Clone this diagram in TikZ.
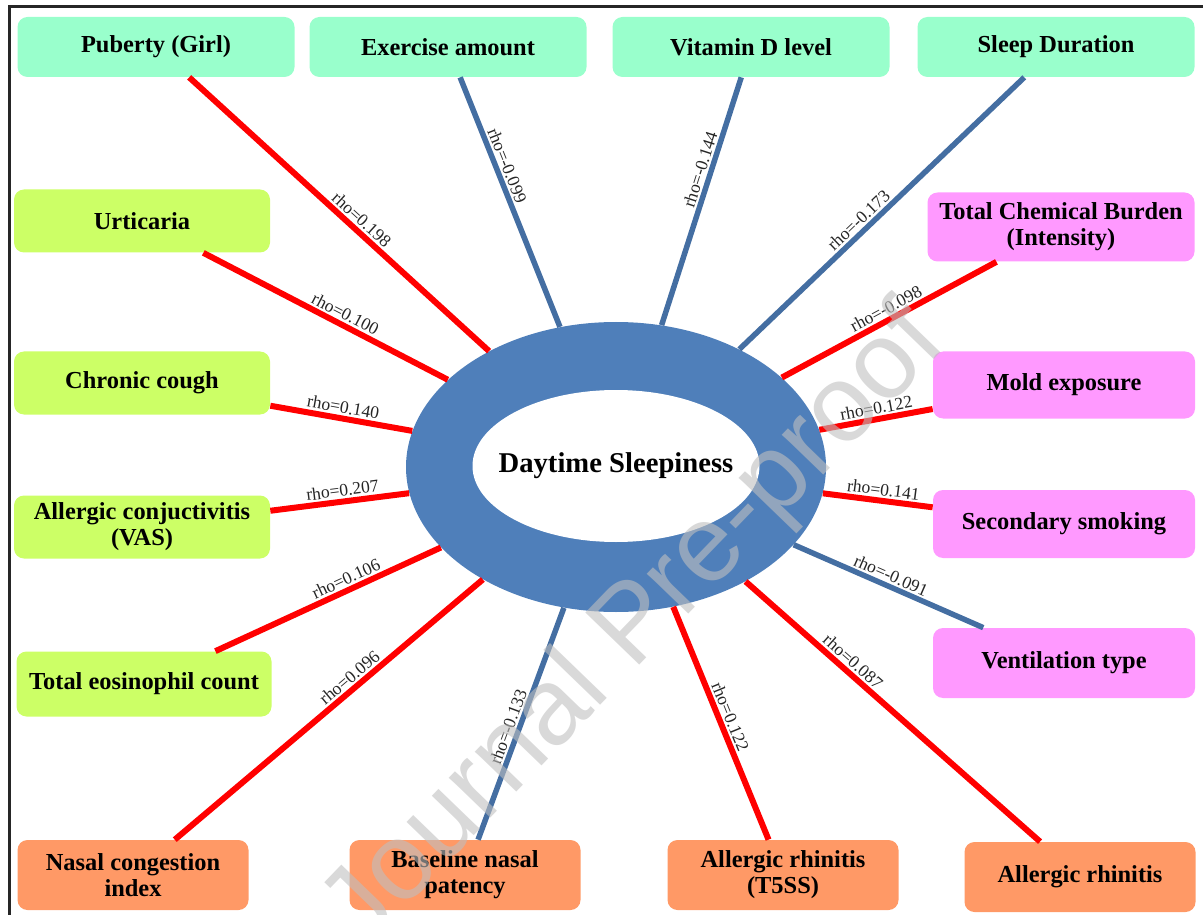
\documentclass[tikz,border=0pt]{standalone}
\usepackage{fontspec}
\setmainfont{Liberation Serif}
\setsansfont{Liberation Sans}
\usetikzlibrary{shapes.geometric}
\newlength\px
\setlength\px{0.02cm}
\definecolor{mint}{RGB}{153,255,204}
\definecolor{lime}{RGB}{204,255,102}
\definecolor{orchid}{RGB}{255,153,255}
\definecolor{salmon}{RGB}{255,153,102}
\definecolor{ringblue}{RGB}{79,127,186}
\definecolor{lineblue}{RGB}{68,110,162}
\definecolor{linered}{RGB}{255,0,0}
\begin{document}
\begin{tikzpicture}[x=1\px,y=-1\px,
 factor/.style={rounded corners=10\px,inner sep=0pt,align=center,
   font=\bfseries\fontsize{13.9}{14.8}\selectfont},
 topbox/.style={factor,fill=mint,minimum width=277\px,minimum height=60\px},
 leftbox/.style={factor,fill=lime,minimum width=256\px,minimum height=63\px},
 rightbox/.style={factor,fill=orchid,minimum width=262\px,minimum height=67\px},
 botbox/.style={factor,fill=salmon,minimum width=231\px,minimum height=70\px},
 posline/.style={draw=linered,line width=6\px},
 negline/.style={draw=lineblue,line width=5.5\px},
 rho/.style={sloped,above,inner sep=2\px,text=black!85,font=\fontsize{10}{10}\selectfont}]
 \useasboundingbox (0,0) rectangle (1203,915);
 \draw[line width=3\px,black!85] (9,930) -- (9,7) -- (1215,7);
 % factors
 \node[topbox] (puberty) at (156,47) {Puberty (Girl)};
 \node[topbox] (exercise) at (448,47) {Exercise amount};
 \node[topbox] (vitd) at (751,47) {Vitamin D level};
 \node[topbox] (sleep) at (1056,47) {Sleep Duration};
 \node[leftbox] (urticaria) at (142,221) {Urticaria};
 \node[leftbox] (cough) at (142,383) {Chronic cough};
 \node[leftbox] (conj) at (142,527) {Allergic conjuctivitis\\(VAS)};
 \node[leftbox,minimum width=255\px,minimum height=65\px] (eosin) at (144,684) {Total eosinophil count};
 \node[rightbox,minimum width=267\px,minimum height=69\px] (chem) at (1061,227) {Total Chemical Burden\\(Intensity)};
 \node[rightbox] (mold) at (1064,385) {Mold exposure};
 \node[rightbox,minimum height=68\px] (smoke) at (1064,524) {Secondary smoking};
 \node[rightbox,minimum height=70\px] (vent) at (1064,663) {Ventilation type};
 \node[botbox] (nasal) at (133,875) {Nasal congestion\\index};
 \node[botbox] (patency) at (465,875) {Baseline nasal\\patency};
 \node[botbox] (tsss) at (783,875) {Allergic rhinitis\\(T5SS)};
 \node[botbox] (rhinitis) at (1080,877) {Allergic rhinitis};
 % outcome
 \node[ellipse,fill=ringblue,inner sep=0pt,minimum width=420\px,minimum height=290\px] (DS) at (616,467) {};
 \node[ellipse,fill=white,inner sep=0pt,minimum width=287\px,minimum height=152\px] (core) at (616,466) {};
 \node[font=\bfseries\fontsize{16.3}{18}\selectfont] (title) at (core) {Daytime Sleepiness};
 % correlations
 \draw[posline] (puberty) -- node[rho,pos=0.55] {rho=0.198} (DS);
 \draw[negline] (exercise) -- node[rho,pos=0.37] {rho=-0.099} (DS);
 \draw[negline] (vitd) -- node[rho,pos=0.385] {rho=-0.144} (DS);
 \draw[negline] (sleep) -- node[rho,pos=0.555] {rho=-0.173} (DS);
 \draw[posline] (urticaria) -- node[rho,pos=0.56] {rho=0.100} (DS);
 \draw[posline] (cough) -- node[rho,pos=0.5] {rho=0.140} (DS);
 \draw[posline] (conj) -- node[rho,pos=0.53] {rho=0.207} (DS);
 \draw[posline] (eosin) -- node[rho,pos=0.6] {rho=0.106} (DS);
 \draw[posline] (chem) -- node[rho,pos=0.49] {rho=-0.098} (DS);
 \draw[posline] (mold) -- node[rho,pos=0.48] {rho=0.122} (DS);
 \draw[posline] (smoke) -- node[rho,pos=0.46] {rho=0.141} (DS);
 \draw[negline] (vent) -- node[rho,pos=0.51] {rho=-0.091} (DS);
 \draw[posline] (nasal) -- node[rho,pos=0.59] {rho=0.096} (DS);
 \draw[negline] (patency) -- node[rho,pos=0.47] {rho=-0.133} (DS);
 \draw[posline] (tsss) -- node[rho,pos=0.51] {rho=0.122} (DS);
 \draw[posline] (rhinitis) -- node[rho,pos=0.66] {rho=0.087} (DS);
 % watermark
 \node[rotate=46,text=black!25,text opacity=0.6,font=\sffamily\fontsize{62}{62}\selectfont] (mark) at (636,628) {Journal Pre-proof};
\end{tikzpicture}
\end{document}
